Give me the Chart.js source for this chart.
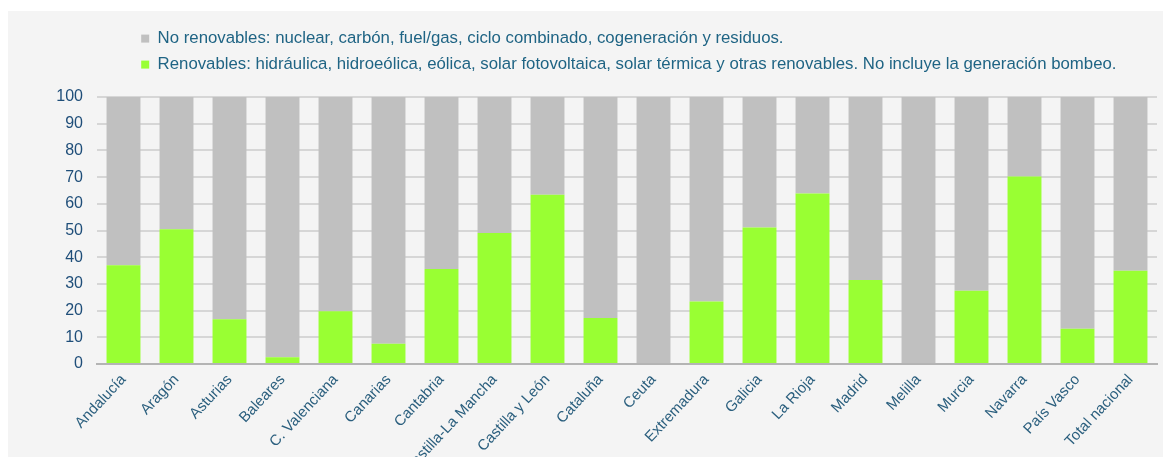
<!DOCTYPE html>
<html>
<head>
<meta charset="utf-8">
<script src="https://cdn.jsdelivr.net/npm/chart.js@4/dist/chart.umd.min.js"></script>
<style>
  html, body { margin: 0; padding: 0; background: #fff; }
  #panel { position: absolute; left: 8px; top: 11px; width: 1155px; height: 446px; background: #f4f4f4; }
</style>
</head>
<body>
<div id="panel"><canvas id="chart"></canvas></div>
<script>
const regions = ['Andalucía', 'Aragón', 'Asturias', 'Baleares', 'C. Valenciana', 'Canarias', 'Cantabria',
  'Castilla-La Mancha', 'Castilla y León', 'Cataluña', 'Ceuta', 'Extremadura', 'Galicia', 'La Rioja',
  'Madrid', 'Melilla', 'Murcia', 'Navarra', 'País Vasco', 'Total nacional'];
const renovables = [37.0, 50.5, 16.8, 2.5, 19.8, 7.6, 35.6, 49.1, 63.4, 17.2, 0, 23.4, 51.1, 63.9, 31.5, 0, 27.4, 70.2, 13.2, 34.9];
const noRenovables = renovables.map(v => +(100 - v).toFixed(1)); // el resto hasta 100 %
const yTicks = [0, 10, 20, 30, 40, 50, 60, 70, 80, 90, 100];

// leyenda desplazada a la derecha y con más hueco debajo, como en el original
const legendShift = {
  id: 'legendShift',
  beforeInit(chart) {
    const fit = chart.legend.fit;
    chart.legend.fit = function () {
      fit.call(this);
      this.height += 14;
    };
  },
  afterLayout(chart) {
    chart.legend.left += 124;
    chart.legend.right += 124;
    chart.legend.adjustHitBoxes();
  }
};

new Chart(document.getElementById('chart'), {
  type: 'bar',
  data: {
    labels: regions,
    datasets: [
      {
        label: 'Renovables: hidráulica, hidroeólica, eólica, solar fotovoltaica, solar térmica y otras renovables. No incluye la generación bombeo.',
        data: renovables,
        backgroundColor: '#99ff33'
      },
      {
        label: 'No renovables: nuclear, carbón, fuel/gas, ciclo combinado, cogeneración y residuos.',
        data: noRenovables,
        backgroundColor: '#c0c0c0'
      }
    ]
  },
  options: {
    responsive: true,
    maintainAspectRatio: false,
    animation: false,
    barPercentage: 0.64,
    categoryPercentage: 1,
    layout: { padding: { top: 10, right: 6, left: 0, bottom: 0 } },
    plugins: {
      legend: {
        position: 'top',
        align: 'start',
        reverse: true,
        labels: {
          boxWidth: 8,
          boxHeight: 8,
          padding: 9.2,
          color: '#1f6484',
          font: { family: 'Liberation Sans, Arial, sans-serif', size: 16.8 }
        }
      },
      tooltip: { enabled: false }
    },
    scales: {
      x: {
        stacked: true,
        grid: { display: false, drawTicks: false },
        border: { color: '#b4b4b4', width: 2 },
        ticks: {
          minRotation: 47,
          maxRotation: 47,
          autoSkip: false,
          padding: 7,
          color: '#2b5f7e',
          font: { family: 'Liberation Sans, Arial, sans-serif', size: 15 }
        },
        afterFit(scale) { scale.height = 93; }
      },
      y: {
        stacked: true,
        min: 0,
        max: 100,
        afterBuildTicks(scale) { scale.ticks = yTicks.map(v => ({ value: v })); },
        grid: { color: '#d6d6d6', lineWidth: 2, drawTicks: false },
        border: { display: false },
        ticks: {
          padding: 14,
          color: '#1f4e79',
          font: { family: 'Liberation Sans, Arial, sans-serif', size: 16 }
        },
        afterFit(scale) { scale.width = 89; }
      }
    }
  },
  plugins: [legendShift]
});
</script>
</body>
</html>
